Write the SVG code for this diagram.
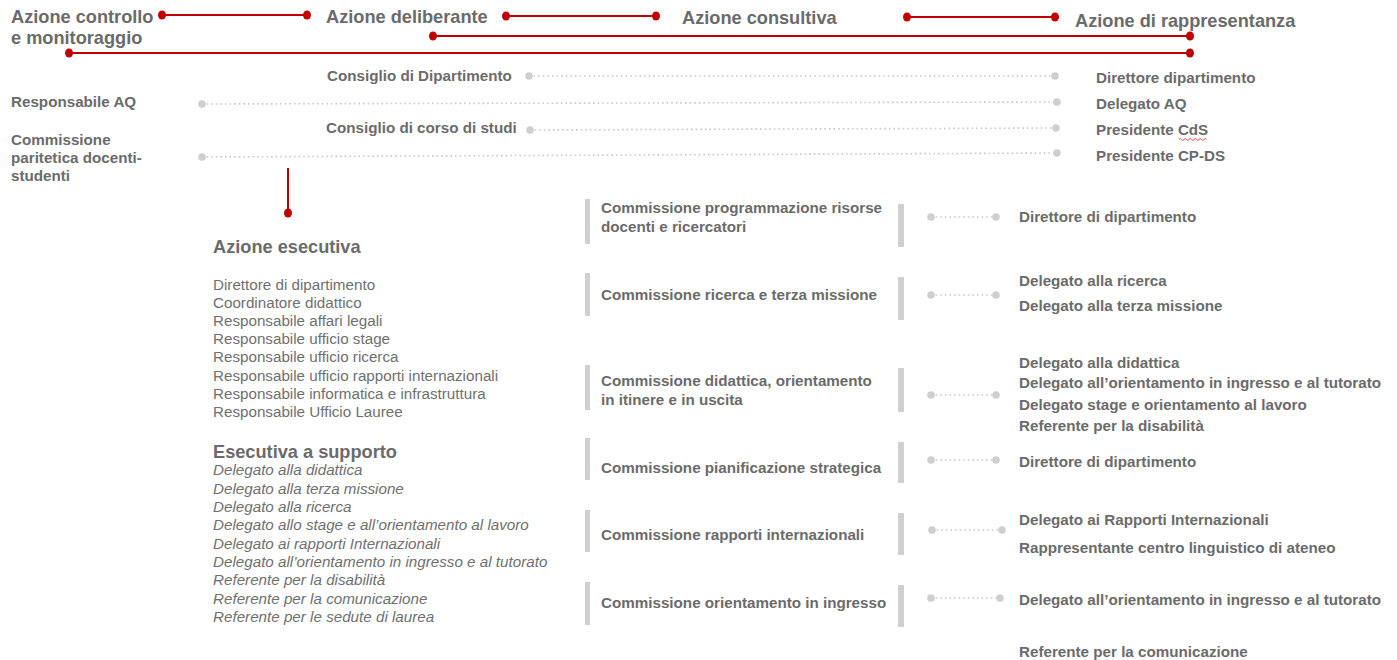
<svg xmlns="http://www.w3.org/2000/svg" width="1397" height="660" viewBox="0 0 1397 660">
<defs>
<style>
.h{font-family:"Liberation Sans",Arial,sans-serif;font-weight:bold;font-size:18.2px;fill:#6b6b6b}
.b{font-family:"Liberation Sans",Arial,sans-serif;font-weight:bold;font-size:15.2px;fill:#6b6b6b}
.r{font-family:"Liberation Sans",Arial,sans-serif;font-size:15.2px;fill:#707070}
.i{font-family:"Liberation Sans",Arial,sans-serif;font-style:italic;font-size:15.2px;fill:#707070}
.red{stroke:#c00000;stroke-width:2;fill:none}
.rd{fill:#c00000}
.dot{stroke:#c8c8c8;stroke-width:1.6;stroke-dasharray:1.6 3;fill:none}
.gd{fill:#cfcfcf}
.bar{fill:#d0d0d0}
</style>
</defs>
<rect width="1397" height="660" fill="#ffffff"/>

<g id="connectors">
  <line class="red" x1="162" y1="15" x2="307" y2="15"/>
  <ellipse class="rd" cx="162" cy="15" rx="4" ry="4.5"/><ellipse class="rd" cx="307" cy="15" rx="4" ry="4.5"/>
  <line class="red" x1="506" y1="16" x2="656" y2="16"/>
  <ellipse class="rd" cx="506" cy="16" rx="4" ry="4.5"/><ellipse class="rd" cx="656" cy="16" rx="4" ry="4.5"/>
  <line class="red" x1="907" y1="17" x2="1055" y2="17"/>
  <ellipse class="rd" cx="907" cy="17" rx="4" ry="4.5"/><ellipse class="rd" cx="1055" cy="17" rx="4" ry="4.5"/>
  <line class="red" x1="433" y1="36" x2="1190" y2="36"/>
  <ellipse class="rd" cx="433" cy="36" rx="4" ry="4.5"/><ellipse class="rd" cx="1190" cy="36" rx="4" ry="4.5"/>
  <line class="red" x1="69" y1="53" x2="1190" y2="53"/>
  <ellipse class="rd" cx="69" cy="53" rx="4" ry="4.5"/><ellipse class="rd" cx="1190" cy="53" rx="4" ry="4.5"/>
  <line class="red" x1="288" y1="168" x2="288" y2="213"/>
  <ellipse class="rd" cx="288" cy="213" rx="4" ry="4.5"/>

  <line class="dot" x1="529" y1="76" x2="1055" y2="76"/>
  <circle class="gd" cx="529" cy="76" r="3.8"/><circle class="gd" cx="1055" cy="76" r="3.8"/>
  <line class="dot" x1="202" y1="104" x2="1057" y2="102"/>
  <circle class="gd" cx="202" cy="104" r="3.8"/><circle class="gd" cx="1057" cy="102" r="3.8"/>
  <line class="dot" x1="530" y1="130" x2="1056" y2="128"/>
  <circle class="gd" cx="530" cy="130" r="3.8"/><circle class="gd" cx="1056" cy="128" r="3.8"/>
  <line class="dot" x1="202" y1="157" x2="1057" y2="153"/>
  <circle class="gd" cx="202" cy="157" r="3.8"/><circle class="gd" cx="1057" cy="153" r="3.8"/>

  <line class="dot" x1="931" y1="217" x2="996" y2="217"/>
  <circle class="gd" cx="931" cy="217" r="3.8"/><circle class="gd" cx="996" cy="217" r="3.8"/>
  <line class="dot" x1="931" y1="295" x2="996" y2="295"/>
  <circle class="gd" cx="931" cy="295" r="3.8"/><circle class="gd" cx="996" cy="295" r="3.8"/>
  <line class="dot" x1="931" y1="395" x2="996" y2="395"/>
  <circle class="gd" cx="931" cy="395" r="3.8"/><circle class="gd" cx="996" cy="395" r="3.8"/>
  <line class="dot" x1="931" y1="460" x2="996" y2="460"/>
  <circle class="gd" cx="931" cy="460" r="3.8"/><circle class="gd" cx="996" cy="460" r="3.8"/>
  <line class="dot" x1="932" y1="530" x2="1002" y2="530"/>
  <circle class="gd" cx="932" cy="530" r="3.8"/><circle class="gd" cx="1002" cy="530" r="3.8"/>
  <line class="dot" x1="931" y1="598" x2="1000" y2="598"/>
  <circle class="gd" cx="931" cy="598" r="3.8"/><circle class="gd" cx="1000" cy="598" r="3.8"/>
</g>

<g id="azione-controllo"><text class="h" x="11" y="23">Azione controllo</text><text class="h" x="11" y="44">e monitoraggio</text></g>
<g id="azione-deliberante"><text class="h" x="326" y="23">Azione deliberante</text></g>
<g id="azione-consultiva"><text class="h" x="682" y="24">Azione consultiva</text></g>
<g id="azione-rappresentanza"><text class="h" x="1075" y="27">Azione di rappresentanza</text></g>

<g id="consiglio-dipartimento"><text class="b" x="327" y="81">Consiglio di Dipartimento</text></g>
<g id="responsabile-aq"><text class="b" x="11" y="107">Responsabile AQ</text></g>
<g id="consiglio-cds"><text class="b" x="326" y="133">Consiglio di corso di studi</text></g>
<g id="cpds"><text class="b" x="11" y="145">Commissione</text><text class="b" x="11" y="163">paritetica docenti-</text><text class="b" x="11" y="181">studenti</text></g>

<g id="rappresentanti">
  <text class="b" x="1096" y="83">Direttore dipartimento</text>
  <text class="b" x="1096" y="109">Delegato AQ</text>
  <text class="b" x="1096" y="135">Presidente CdS</text>
  <path d="M1179 139.5 q1.25 -2 2.5 0 t2.5 0 t2.5 0 t2.5 0 t2.5 0 t2.5 0 t2.5 0 t2.5 0 t2.5 0 t2.5 0 t2.5 0" stroke="#e03030" stroke-width="0.9" fill="none"/>
  <text class="b" x="1096" y="161">Presidente CP-DS</text>
</g>

<g id="azione-esecutiva">
  <text class="h" x="213" y="253">Azione esecutiva</text>
  <text class="r" x="213" y="290">Direttore di dipartimento</text>
  <text class="r" x="213" y="308">Coordinatore didattico</text>
  <text class="r" x="213" y="326">Responsabile affari legali</text>
  <text class="r" x="213" y="344">Responsabile ufficio stage</text>
  <text class="r" x="213" y="362">Responsabile ufficio ricerca</text>
  <text class="r" x="213" y="381">Responsabile ufficio rapporti internazionali</text>
  <text class="r" x="213" y="399">Responsabile informatica e infrastruttura</text>
  <text class="r" x="213" y="417">Responsabile Ufficio Lauree</text>
</g>

<g id="esecutiva-supporto">
  <text class="h" x="213" y="458">Esecutiva a supporto</text>
  <text class="i" x="213" y="475">Delegato alla didattica</text>
  <text class="i" x="213" y="494">Delegato alla terza missione</text>
  <text class="i" x="213" y="512">Delegato alla ricerca</text>
  <text class="i" x="213" y="530">Delegato allo stage e all’orientamento al lavoro</text>
  <text class="i" x="213" y="549">Delegato ai rapporti Internazionali</text>
  <text class="i" x="213" y="567">Delegato all’orientamento in ingresso e al tutorato</text>
  <text class="i" x="213" y="585">Referente per la disabilità</text>
  <text class="i" x="213" y="604">Referente per la comunicazione</text>
  <text class="i" x="213" y="622">Referente per le sedute di laurea</text>
</g>

<g id="comm-programmazione">
  <rect class="bar" x="585" y="199" width="5" height="45"/><rect class="bar" x="898" y="204" width="6" height="43"/>
  <text class="b" x="601" y="213">Commissione programmazione risorse</text>
  <text class="b" x="601" y="232">docenti e ricercatori</text>
</g>
<g id="comm-ricerca">
  <rect class="bar" x="585" y="273" width="5" height="43"/><rect class="bar" x="898" y="277" width="6" height="43"/>
  <text class="b" x="601" y="300">Commissione ricerca e terza missione</text>
</g>
<g id="comm-didattica">
  <rect class="bar" x="585" y="365" width="5" height="45"/><rect class="bar" x="898" y="368" width="6" height="44"/>
  <text class="b" x="601" y="386">Commissione didattica, orientamento</text>
  <text class="b" x="601" y="405">in itinere e in uscita</text>
</g>
<g id="comm-pianificazione">
  <rect class="bar" x="585" y="438" width="5" height="42"/><rect class="bar" x="898" y="442" width="6" height="41"/>
  <text class="b" x="601" y="473">Commissione pianificazione strategica</text>
</g>
<g id="comm-rapporti">
  <rect class="bar" x="585" y="510" width="5" height="42"/><rect class="bar" x="898" y="513" width="6" height="42"/>
  <text class="b" x="601" y="540">Commissione rapporti internazionali</text>
</g>
<g id="comm-orientamento">
  <rect class="bar" x="585" y="582" width="5" height="43"/><rect class="bar" x="898" y="585" width="6" height="42"/>
  <text class="b" x="601" y="608">Commissione orientamento in ingresso</text>
</g>

<g id="membri">
  <text class="b" x="1019" y="222">Direttore di dipartimento</text>
  <text class="b" x="1019" y="286">Delegato alla ricerca</text>
  <text class="b" x="1019" y="311">Delegato alla terza missione</text>
  <text class="b" x="1019" y="368">Delegato alla didattica</text>
  <text class="b" x="1019" y="388">Delegato all’orientamento in ingresso e al tutorato</text>
  <text class="b" x="1019" y="410">Delegato stage e orientamento al lavoro</text>
  <text class="b" x="1019" y="431">Referente per la disabilità</text>
  <text class="b" x="1019" y="467">Direttore di dipartimento</text>
  <text class="b" x="1019" y="525">Delegato ai Rapporti Internazionali</text>
  <text class="b" x="1019" y="553">Rappresentante centro linguistico di ateneo</text>
  <text class="b" x="1019" y="605">Delegato all’orientamento in ingresso e al tutorato</text>
  <text class="b" x="1019" y="657">Referente per la comunicazione</text>
</g>
</svg>
